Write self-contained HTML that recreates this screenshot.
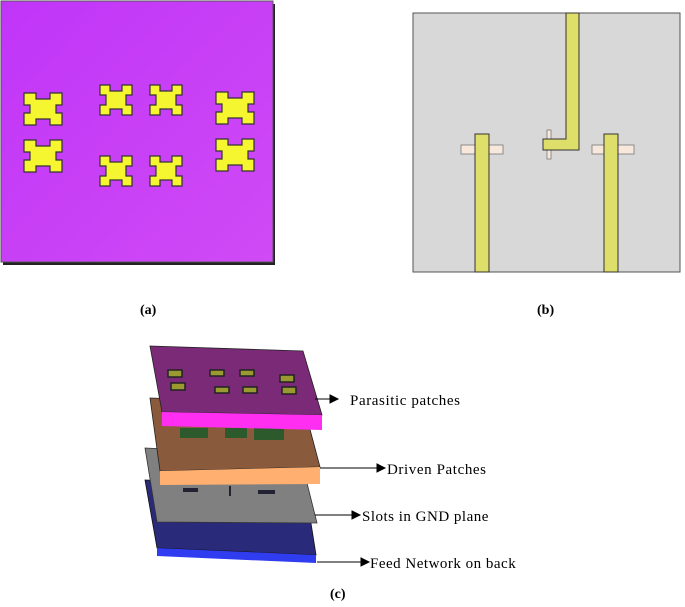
<!DOCTYPE html>
<html><head><style>
body{margin:0;background:#fff;width:685px;height:602px;overflow:hidden}
svg text{font-family:"Liberation Serif",serif}
</style></head><body>
<svg width="685" height="602" viewBox="0 0 685 602" xmlns="http://www.w3.org/2000/svg">
<defs>
<linearGradient id="pg" x1="0" y1="0" x2="1" y2="1"><stop offset="0" stop-color="#c035f8"/><stop offset="1" stop-color="#d04af5"/></linearGradient>
<g id="cross">
<path d="M0,0 h10 v6 h12 v-6 h10 v10 h-6 v10 h6 v10 h-10 v-6 h-12 v6 h-10 v-10 h6 v-10 h-6 z" fill="#f5f530" stroke="#333" stroke-width="1.2"/>
</g>
<g id="cross2">
<path d="M0,0 h12 v6 h14 v-6 h12 v12 h-6 v8 h6 v12 h-12 v-6 h-14 v6 h-12 v-12 h6 v-8 h-6 z" fill="#f5f530" stroke="#333" stroke-width="1.2"/>
</g>
</defs>
<!-- (a) -->
<rect x="3" y="4" width="272" height="261" fill="#222"/>
<rect x="1" y="1" width="272" height="261" fill="url(#pg)" stroke="#555" stroke-width="1"/>
<use href="#cross2" x="24" y="93"/>
<use href="#cross2" x="24" y="140"/>
<use href="#cross" x="100" y="85"/>
<use href="#cross" x="150" y="85"/>
<use href="#cross" x="100" y="156"/>
<use href="#cross" x="150" y="156"/>
<use href="#cross2" x="216" y="92"/>
<use href="#cross2" x="216" y="139"/>
<!-- (b) -->
<rect x="413" y="13" width="267" height="259" fill="#d8d8d8" stroke="#555" stroke-width="1"/>
<rect x="461" y="145" width="42" height="9" fill="#f8e8dc" stroke="#777" stroke-width="0.8"/>
<rect x="592" y="145" width="42" height="9" fill="#f8e8dc" stroke="#777" stroke-width="0.8"/>
<rect x="547" y="130" width="4" height="29" fill="#f8e8dc" stroke="#777" stroke-width="0.8"/>
<rect x="475" y="134" width="14" height="138" fill="#dede6a" stroke="#333" stroke-width="1"/>
<rect x="604" y="134" width="14" height="138" fill="#dede6a" stroke="#333" stroke-width="1"/>
<path d="M566,13 h13 v137 h-36 v-11 h23 z" fill="#dede6a" stroke="#333" stroke-width="1"/>
<text x="140" y="314" font-size="14" font-weight="bold">(a)</text>
<text x="537" y="314" font-size="14" font-weight="bold">(b)</text>
<!-- (c) blue -->
<polygon points="145,480 305,485 316,555 157,548" fill="#2a2a7a" stroke="#111" stroke-width="0.8"/>
<polygon points="157,548 316,555 316,563 157,556" fill="#2f3cf0"/>
<!-- gray -->
<polygon points="145,448 300,455 317,523 157,522" fill="#808080" stroke="#333" stroke-width="0.8"/>
<rect x="183" y="488" width="15" height="4" fill="#223"/><rect x="229" y="486" width="2" height="10" fill="#223"/><rect x="258" y="490" width="17" height="4" fill="#223"/>
<!-- brown -->
<polygon points="150,398 303,403 320,467 160,471" fill="#8a5a3c" stroke="#222" stroke-width="0.8"/>
<polygon points="160,471 320,467 320,484 160,485" fill="#ffb070"/>
<g fill="#2c5a2c"><rect x="180" y="428" width="28" height="10"/><rect x="225" y="428" width="22" height="10"/><rect x="254" y="428" width="30" height="12"/></g>
<!-- purple -->
<polygon points="150,346 303,351 322,415 162,412" fill="#7b2a78" stroke="#222" stroke-width="0.8"/>
<polygon points="162,412 322,415 322,430 162,426" fill="#ff2ef0"/>
<g fill="#9a9a30" stroke="#222" stroke-width="1.5">
<rect x="168" y="370" width="14" height="7"/><rect x="171" y="383" width="14" height="7"/>
<rect x="210" y="370" width="14" height="6"/><rect x="240" y="370" width="14" height="6"/>
<rect x="215" y="387" width="14" height="6"/><rect x="243" y="387" width="14" height="6"/>
<rect x="280" y="375" width="14" height="7"/><rect x="282" y="387" width="14" height="7"/>
</g>
<g stroke="#000" stroke-width="1" fill="#000">
<line x1="315" y1="399" x2="332" y2="399"/><polygon points="330,395 338,399 330,403"/>
<line x1="320" y1="468" x2="379" y2="468"/><polygon points="377,464 385,468 377,472"/>
<line x1="315" y1="515" x2="354" y2="515"/><polygon points="352,511 360,515 352,519"/>
<line x1="317" y1="562" x2="363" y2="562"/><polygon points="361,558 369,562 361,566"/>
</g>
<text x="350" y="405" font-size="15" letter-spacing="0.6">Parasitic patches</text>
<text x="387" y="474" font-size="15" letter-spacing="0.6">Driven Patches</text>
<text x="362" y="521" font-size="15" letter-spacing="0.5">Slots in GND plane</text>
<text x="370" y="568" font-size="15" letter-spacing="0.5">Feed Network on back</text>
<text x="330" y="598" font-size="14" font-weight="bold">(c)</text>
</svg>
</body></html>
